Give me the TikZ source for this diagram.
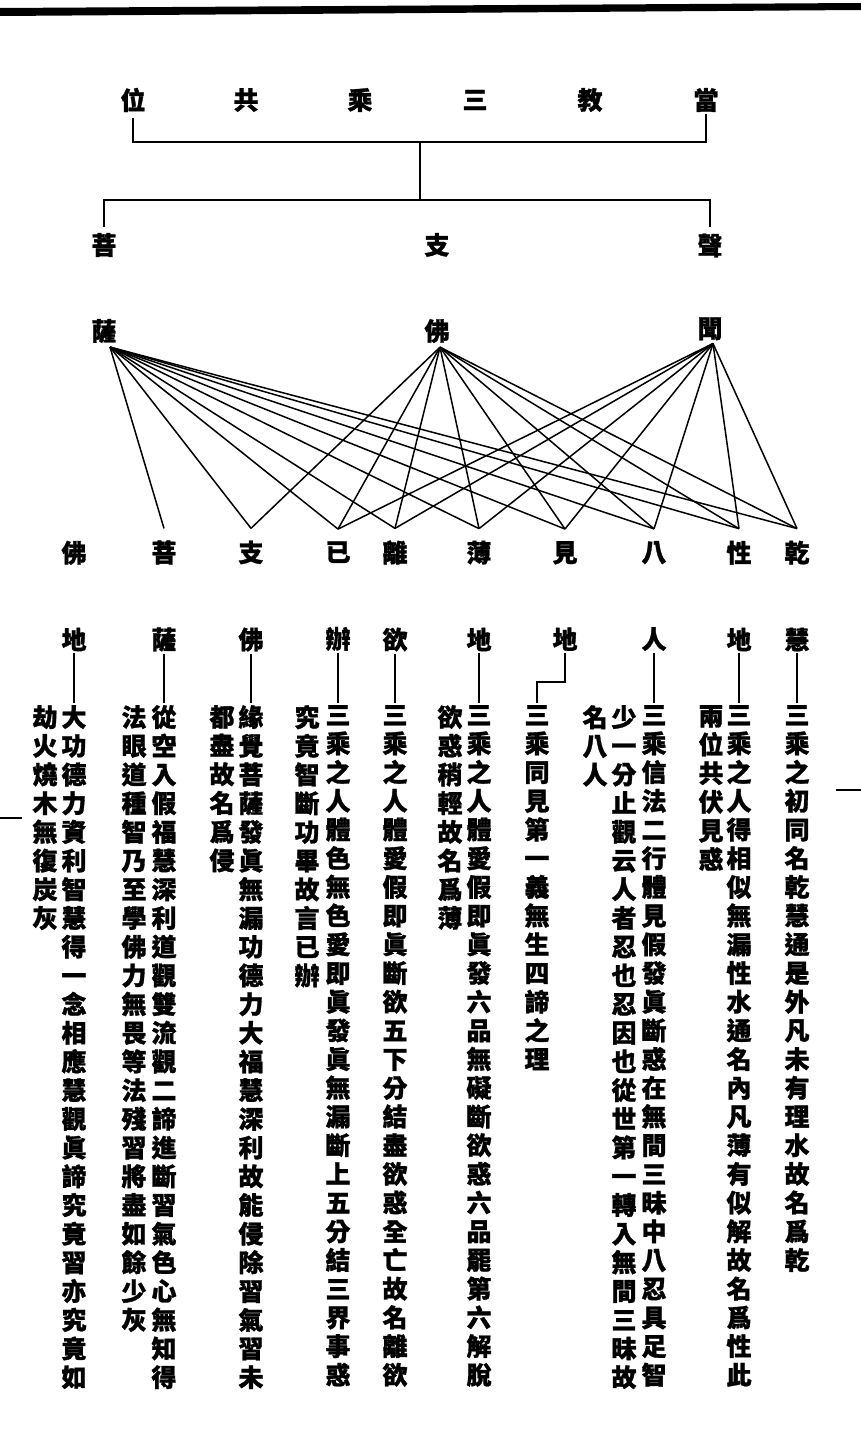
\documentclass[tikz,border=0pt]{standalone}
\usepackage{fontspec}
\newfontfamily\cjk{Noto Sans CJK TC}[FakeBold=1.2]
\usetikzlibrary{calc}

% vertical column of characters
\makeatletter
\newcommand\vcol[2][28.7pt]{\vbox{\baselineskip=#1\lineskiplimit=-1000pt\lineskip=0pt\relax\vcol@#2\@nil}}
\def\vcol@#1{\ifx#1\@nil\else\hbox to 25pt{\hss#1\hss}\expandafter\vcol@\fi}
\makeatother

\tikzstyle{zi} = [font=\cjk\bfseries\fontsize{25}{25}\selectfont, inner sep=0pt]
\tikzstyle{col} = [zi, anchor=north]
\tikzstyle{fan} = [line width=1.5pt]
\tikzstyle{link} = [line width=1.6pt]

\begin{document}
\begin{tikzpicture}[x=1pt,y=-1pt]
        \useasboundingbox (0,0) rectangle (861,1432);
        % page edge marks
        \fill (0,8) -- (861,3) -- (861,10) -- (0,16) -- cycle;
        \draw[link] (0,818) -- (22,818);
        \draw[link] (836,790) -- (861,790);

        % heading
        \node (wei) at (133,100) [zi] {位};
        \node (gong) at (246,100) [zi] {共};
        \node (cheng) at (360,100) [zi] {乘};
        \node (san) at (475,100) [zi] {三};
        \node (jiao) at (590,100) [zi] {教};
        \node (dang) at (706,100) [zi] {當};
        \coordinate (j1) at (420,142);
        \coordinate (j2) at (420,200);
        \draw[link] ([yshift=-6pt]wei.south) |- (j1) -| ([yshift=-2pt]dang.south);
        \draw[link] (j1) -- (j2);

        % three vehicles
        \node (pusa) at (104,288) [zi] {\vcol[86pt]{菩薩}};
        \node (zhifo) at (437,288) [zi] {\vcol[86pt]{支佛}};
        \node (shengwen) at (710,287) [zi] {\vcol[83pt]{聲聞}};
        \draw[link] ([yshift=6pt]pusa.north) |- (j2) -| ([yshift=6pt]shengwen.north);

        % ten stages
        \node (s1) at (797,596) [zi] {\vcol[87pt]{乾慧}};
        \node (s2) at (739,596) [zi] {\vcol[87pt]{性地}};
        \node (s3) at (654,596) [zi] {\vcol[87pt]{八人}};
        \node (s4) at (565,596) [zi] {\vcol[87pt]{見地}};
        \node (s5) at (479,596) [zi] {\vcol[87pt]{薄地}};
        \node (s6) at (395,596) [zi] {\vcol[87pt]{離欲}};
        \node (s7) at (338,596) [zi] {\vcol[87pt]{已辦}};
        \node (s8) at (251,596) [zi] {\vcol[87pt]{支佛}};
        \node (s9) at (164,596) [zi] {\vcol[87pt]{菩薩}};
        \node (s10) at (74,596) [zi] {\vcol[87pt]{佛地}};

        \foreach \i in {1,...,9}
            \draw[fan] ([xshift=6pt,yshift=-4pt]pusa.south) -- ([yshift=12pt]s\i.north);
        \foreach \i in {1,...,8}
            \draw[fan] ([xshift=3pt,yshift=-4pt]zhifo.south) -- ([yshift=12pt]s\i.north);
        \foreach \i in {1,...,7}
            \draw[fan] ([xshift=3pt,yshift=-3pt]shengwen.south) -- ([yshift=12pt]s\i.north);

        % explanations
        \node (t1a) at (797,705) [col] {\vcol{三乘之初同名乾慧通是外凡未有理水故名爲乾}};
        \node (t2a) at (739,705) [col] {\vcol{三乘之人得相似無漏性水通名內凡薄有似解故名爲性此}};
        \node (t2b) at (711,705) [col] {\vcol{兩位共伏見惑}};
        \node (t3a) at (654,705) [col] {\vcol{三乘信法二行體見假發眞斷惑在無間三昧中八忍具足智}};
        \node (t3b) at (624,705) [col] {\vcol{少一分止觀云人者忍也忍因也從世第一轉入無間三昧故}};
        \node (t3c) at (595,705) [col] {\vcol{名八人}};
        \node (t4a) at (537,705) [col] {\vcol{三乘同見第一義無生四諦之理}};
        \node (t5a) at (479,705) [col] {\vcol{三乘之人體愛假即眞發六品無礙斷欲惑六品罷第六解脫}};
        \node (t5b) at (450,705) [col] {\vcol{欲惑稍輕故名爲薄}};
        \node (t6a) at (395,705) [col] {\vcol{三乘之人體愛假即眞斷欲五下分結盡欲惑全亡故名離欲}};
        \node (t7a) at (338,705) [col] {\vcol{三乘之人體色無色愛即眞發眞無漏斷上五分結三界事惑}};
        \node (t7b) at (307,705) [col] {\vcol{究竟智斷功畢故言已辦}};
        \node (t8a) at (251,705) [col] {\vcol{緣覺菩薩發眞無漏功德力大福慧深利故能侵除習氣習未}};
        \node (t8b) at (222,705) [col] {\vcol{都盡故名爲侵}};
        \node (t9a) at (164,705) [col] {\vcol{從空入假福慧深利道觀雙流觀二諦進斷習氣色心無知得}};
        \node (t9b) at (134,705) [col] {\vcol{法眼道種智乃至學佛力無畏等法殘習將盡如餘少灰}};
        \node (t10a) at (74,705) [col] {\vcol{大功德力資利智慧得一念相應慧觀眞諦究竟習亦究竟如}};
        \node (t10b) at (45,705) [col] {\vcol{劫火燒木無復炭灰}};

        \coordinate (k4) at (537,682);
        \foreach \i in {1,2,3,5,6,7,8,9,10}
            \draw[link, shorten <=2pt, shorten >=2pt] (s\i.south) -- (t\i a.north);
        \draw[link, shorten <=2pt, shorten >=2pt] (s4.south) |- (k4) -- (t4a.north);
\end{tikzpicture}
\end{document}
